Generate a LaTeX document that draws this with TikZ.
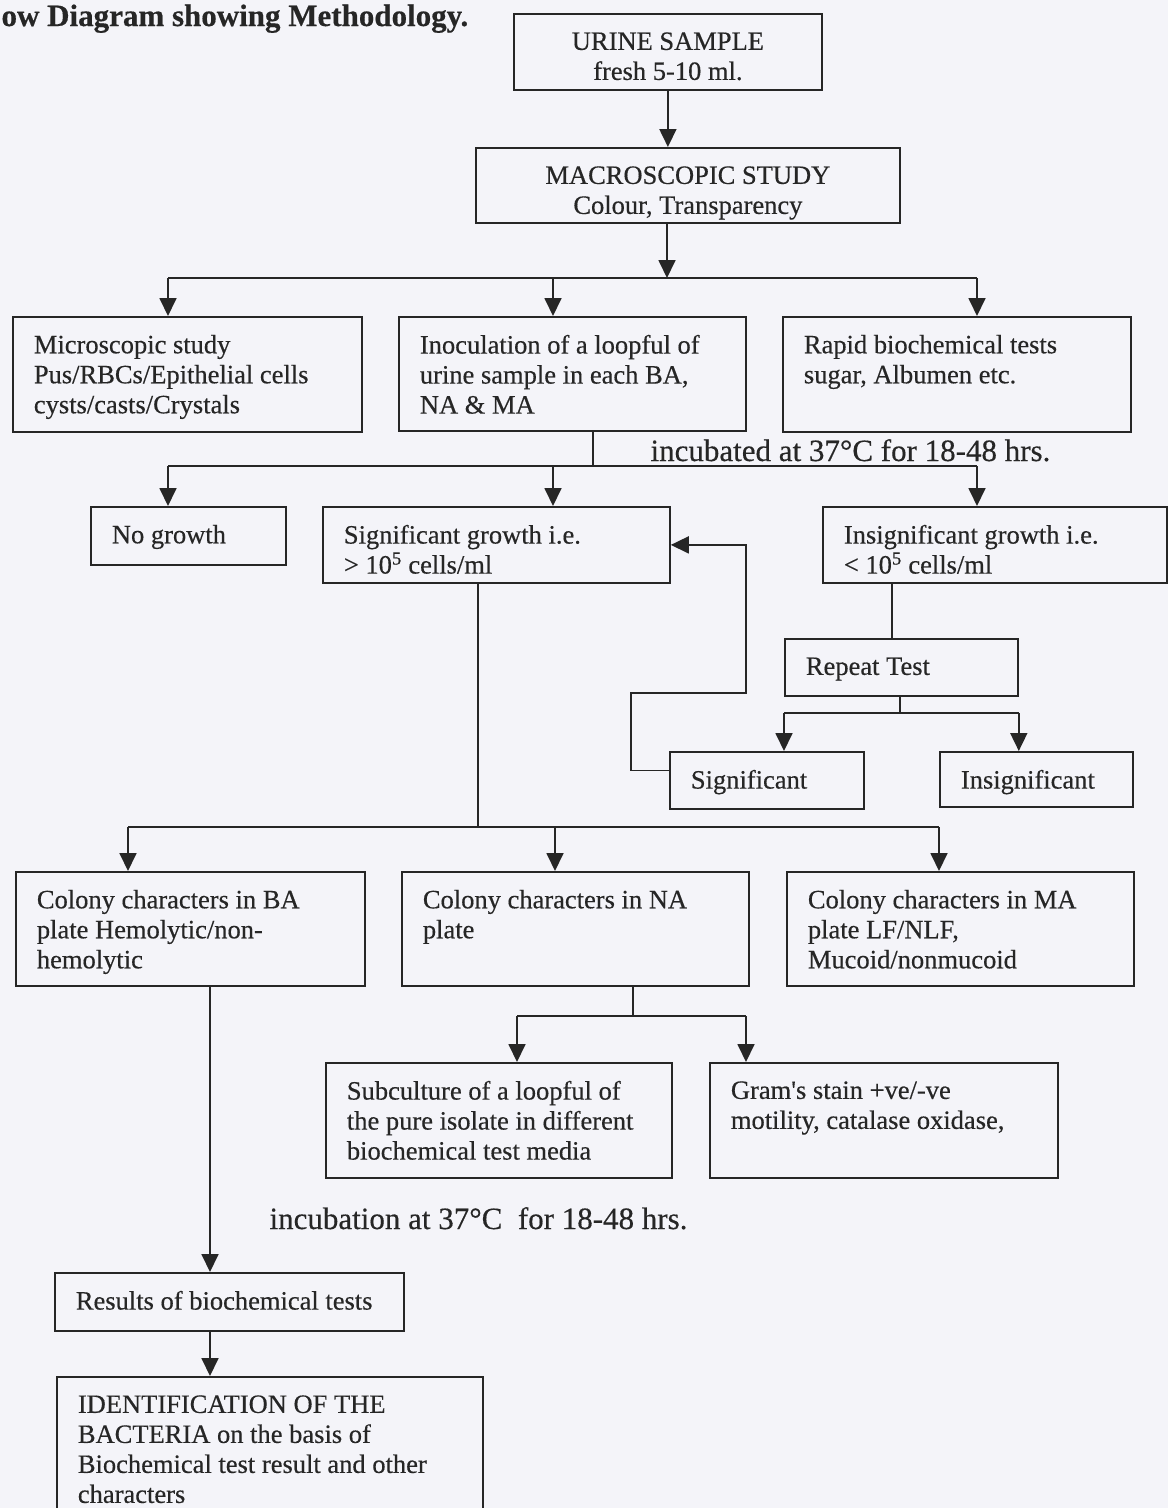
\documentclass[tikz,border=0pt]{standalone}
\usepackage{fontspec}
\setmainfont{Liberation Serif}[FakeBold=0.4]
\newfontfamily\straight{Liberation Serif}[Ligatures=ResetAll, FakeBold=0.4]
\usetikzlibrary{arrows.meta, calc, positioning}
\definecolor{ink}{HTML}{262626}
\definecolor{paper}{HTML}{F4F4F9}

% text of a box: width, height (in pt), lines
\newcommand{\lefttext}[3]{\parbox[t][\dimexpr#2pt-36pt\relax][t]{\dimexpr#1pt-42pt\relax}{\raggedright\rule{0pt}{18pt}#3}}
\newcommand{\midtext}[3]{\parbox[t][\dimexpr#2pt-36pt\relax][t]{\dimexpr#1pt-42pt\relax}{\centering\rule{0pt}{18pt}#3}}

\begin{document}
\begin{tikzpicture}[x=1pt, y=-1pt,
    stage/.style={draw=ink, line width=1.8pt, anchor=north west, inner xsep=21pt,
      inner ysep=18pt, text=ink, font=\fontsize{26.5}{30}\selectfont},
    link/.style={draw=ink, line width=1.8pt},
    flow/.style={link, -{Triangle[length=18pt, width=17pt]}},
    note/.style={anchor=base west, text=ink, font=\fontsize{31}{33}\selectfont}]

  % page
  \fill[paper] (0,0) rectangle (1168,1508);
  \useasboundingbox (0,0) rectangle (1168,1508);

  \node[anchor=base west, text=ink, font=\bfseries\fontsize{31}{33}\selectfont] (title)
    at (-2,26) {ow Diagram showing Methodology.};

  % boxes
  \node[stage] (urine) at (513,13) {\midtext{308}{76}{URINE SAMPLE\\fresh 5-10 ml.}};
  \node[stage] (macro) at (475,147) {\midtext{424}{75}{MACROSCOPIC STUDY\\Colour, Transparency}};

  \node[stage] (micro) at (12,316) {\lefttext{349}{115}{Microscopic study\\Pus/RBCs/Epithelial cells\\cysts/casts/Crystals}};
  \node[stage] (inoc) at (398,316) {\lefttext{347}{114}{Inoculation of a loopful of\\urine sample in each BA,\\NA \& MA}};
  \node[stage] (rapid) at (782,316) {\lefttext{348}{115}{Rapid biochemical tests\\sugar, Albumen etc.}};

  \node[stage] (nogrowth) at (90,506) {\lefttext{195}{58}{No growth}};
  \node[stage] (sig) at (322,506) {\lefttext{347}{76}{Significant growth i.e.\\> 10\textsuperscript{5} cells/ml}};
  \node[stage] (insig) at (822,506) {\lefttext{344}{76}{Insignificant growth i.e.\\< 10\textsuperscript{5} cells/ml}};

  \node[stage] (repeat) at (784,638) {\lefttext{233}{57}{Repeat Test}};
  \node[stage] (signif) at (669,751) {\lefttext{194}{57}{Significant}};
  \node[stage] (insignif) at (939,751) {\lefttext{193}{55}{Insignificant}};

  \node[stage] (colBA) at (15,871) {\lefttext{349}{114}{Colony characters in BA\\plate Hemolytic/non-\\hemolytic}};
  \node[stage] (colNA) at (401,871) {\lefttext{347}{114}{Colony characters in NA\\plate}};
  \node[stage] (colMA) at (786,871) {\lefttext{347}{114}{Colony characters in MA\\plate LF/NLF,\\Mucoid/nonmucoid}};

  \node[stage] (subcult) at (325,1062) {\lefttext{346}{115}{Subculture of a loopful of\\the pure isolate in different\\biochemical test media}};
  \node[stage] (gram) at (709,1062) {\lefttext{348}{115}{Gram{\straight'}s stain +ve/-ve\\motility, catalase oxidase,}};

  \node[stage] (results) at (54,1272) {\lefttext{349}{58}{Results of biochemical tests}};
  \node[stage] (ident) at (56,1376) {\lefttext{426}{160}{IDENTIFICATION OF THE\\BACTERIA on the basis of\\Biochemical test result and other\\characters}};

  % labels
  \node[note] (incub) at (647,461) {incubated at 37°C for 18-48 hrs.};
  \node[note] (incub2) at (266,1229) {incubation at 37°C~ for 18-48 hrs.};

  % forks
  \coordinate (f1) at (667,278);
  \coordinate (f1l) at (168,278);
  \coordinate (f1m) at (553,278);
  \coordinate (f1r) at (977,278);
  \coordinate (f2) at (593,466);
  \coordinate (f2l) at (168,466);
  \coordinate (f2m) at (553,466);
  \coordinate (f2r) at (977,466);
  \coordinate (f3) at (900,713);
  \coordinate (f4) at (478,827);
  \coordinate (f4l) at (128,827);
  \coordinate (f4m) at (555,827);
  \coordinate (f4r) at (939,827);
  \coordinate (f5) at (633,1016);
  \coordinate (f5l) at (517,1016);
  \coordinate (f5r) at (746,1016);
  \coordinate (loopA) at (631,693);
  \coordinate (loopB) at (746,693);
  \coordinate (trunk) at (210,1100);

  % connectors
  \draw[flow] (urine.south) -- (urine.south |- macro.north);
  \draw[flow] (f1 |- macro.south) -- (f1);
  \draw[link] (f1l) -- (f1r);
  \draw[flow] (f1l) -- (f1l |- micro.north);
  \draw[flow] (f1m) -- (f1m |- inoc.north);
  \draw[flow] (f1r) -- (f1r |- rapid.north);

  \draw[link] (f2 |- inoc.south) -- (f2);
  \draw[link] (f2l) -- (f2r);
  \draw[flow] (f2l) -- (f2l |- nogrowth.north);
  \draw[flow] (f2m) -- (f2m |- sig.north);
  \draw[flow] (f2r) -- (f2r |- insig.north);

  \draw[link] ([xshift=70pt]insig.south west) -- ([xshift=70pt]insig.south west |- repeat.north);
  \draw[link] (f3 |- repeat.south) -- (f3);
  \draw[link] (repeat.south west |- f3) -- (repeat.south east |- f3);
  \draw[flow] (repeat.south west |- f3) -- (repeat.south west |- signif.north);
  \draw[flow] (repeat.south east |- f3) -- (repeat.south east |- insignif.north);

  % back to significant growth
  \draw[flow] ([yshift=10pt]signif.west) -| (loopA) -- (loopB) |- (sig.east);

  \draw[link] (f4 |- sig.south) -- (f4);
  \draw[link] (f4l) -- (f4r);
  \draw[flow] (f4l) -- (f4l |- colBA.north);
  \draw[flow] (f4m) -- (f4m |- colNA.north);
  \draw[flow] (f4r) -- (f4r |- colMA.north);

  \draw[link] (f5 |- colNA.south) -- (f5);
  \draw[link] (f5l) -- (f5r);
  \draw[flow] (f5l) -- (f5l |- subcult.north);
  \draw[flow] (f5r) -- (f5r |- gram.north);

  \draw[flow] (trunk |- colBA.south) -- (trunk |- results.north);
  \draw[flow] (trunk |- results.south) -- (trunk |- ident.north);
\end{tikzpicture}
\end{document}
